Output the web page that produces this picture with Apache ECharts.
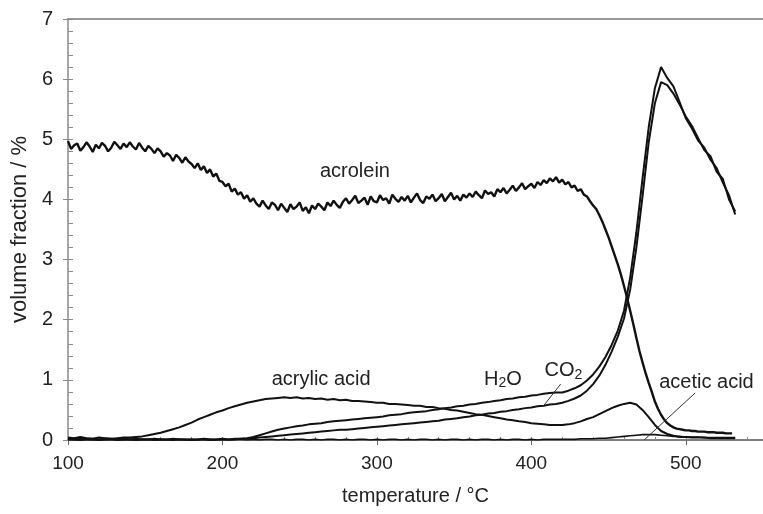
<!DOCTYPE html>
<html>
<head>
<meta charset="utf-8">
<script src="https://cdn.jsdelivr.net/npm/echarts@6/dist/echarts.min.js"></script>
<style>
  html, body { margin: 0; padding: 0; background: #fff; }
  #chart { width: 763px; height: 514px; }
</style>
</head>
<body>
<div id="chart"></div>
<script>
// Temperature grids (°C): fine steps for the acrolein trace, coarser steps for the others
const tempsFine = [];
for (let t = 100; t <= 530; t += 2) tempsFine.push(t);
const tempsCoarse = [];
for (let t = 100; t <= 532; t += 4) tempsCoarse.push(t);

// Volume fractions (%) on tempsFine
const acrolein = [
  4.97, 4.84, 4.90, 4.93, 4.81, 4.87, 4.95, 4.88, 4.79, 4.91,
  4.85, 4.94, 4.89, 4.80, 4.86, 4.96, 4.90, 4.84, 4.93, 4.87,
  4.95, 4.88, 4.83, 4.94, 4.86, 4.80, 4.89, 4.84, 4.77, 4.85,
  4.80, 4.71, 4.77, 4.73, 4.64, 4.74, 4.69, 4.61, 4.70, 4.63,
  4.59, 4.52, 4.60, 4.49, 4.55, 4.44, 4.50, 4.38, 4.43, 4.31,
  4.29, 4.22, 4.26, 4.13, 4.18, 4.08, 4.12, 4.01, 4.07, 3.96,
  4.02, 3.93, 3.88, 3.98, 3.90, 3.84, 3.95, 3.91, 3.82, 3.93,
  3.86, 3.79, 3.92, 3.84, 3.88, 3.95, 3.81, 3.87, 3.77, 3.90,
  3.84, 3.93, 3.88, 3.82, 3.95, 3.89, 3.98, 3.91, 3.86, 3.96,
  4.02, 3.93, 3.99, 4.06, 3.94, 3.98, 4.03, 3.91, 4.05, 3.97,
  3.95, 4.07, 3.99, 4.02, 3.93, 4.08, 4.01, 3.96, 4.04, 3.98,
  4.06, 3.95, 4.03, 4.10, 3.99, 3.94, 4.05, 4.01, 4.08, 3.97,
  4.02, 4.09, 3.97, 4.04, 4.11, 4.00, 4.06, 3.98, 4.08, 4.03,
  4.10, 4.04, 4.13, 4.07, 4.02, 4.15, 4.09, 4.12, 4.05, 4.17,
  4.12, 4.19, 4.10, 4.16, 4.23, 4.14, 4.20, 4.27, 4.17, 4.22,
  4.26, 4.19, 4.29, 4.24, 4.32, 4.27, 4.35, 4.30, 4.37, 4.28,
  4.33, 4.25, 4.29, 4.20, 4.23, 4.14, 4.17, 4.08, 4.05, 3.97,
  3.90, 3.84, 3.74, 3.63, 3.50, 3.37, 3.22, 3.07, 2.92, 2.75,
  2.56, 2.36, 2.15, 1.93, 1.70, 1.48, 1.29, 1.11, 0.95, 0.80,
  0.64, 0.52, 0.42, 0.34, 0.28, 0.24, 0.21, 0.19, 0.18, 0.17,
  0.16, 0.16, 0.15, 0.15, 0.14, 0.14, 0.14, 0.13, 0.13, 0.13,
  0.12, 0.12, 0.12, 0.11, 0.11, 0.11
];

// Volume fractions (%) on tempsCoarse
const acrylicAcid = [
  0.04, 0.03, 0.05, 0.03, 0.02, 0.04, 0.03, 0.02, 0.03, 0.04,
  0.04, 0.05, 0.06, 0.08, 0.10, 0.12, 0.15, 0.18, 0.21, 0.25,
  0.29, 0.34, 0.38, 0.42, 0.46, 0.49, 0.53, 0.56, 0.59, 0.62,
  0.64, 0.66, 0.68, 0.69, 0.70, 0.71, 0.70, 0.71, 0.69, 0.70,
  0.68, 0.69, 0.67, 0.68, 0.66, 0.67, 0.65, 0.65, 0.64, 0.63,
  0.62, 0.62, 0.60, 0.60, 0.59, 0.58, 0.57, 0.57, 0.55, 0.55,
  0.53, 0.52, 0.50, 0.49, 0.47, 0.45, 0.43, 0.42, 0.40, 0.38,
  0.36, 0.34, 0.33, 0.31, 0.30, 0.28, 0.27, 0.26, 0.25, 0.25,
  0.25, 0.26, 0.28, 0.31, 0.35, 0.38, 0.43, 0.48, 0.53, 0.57,
  0.60, 0.62, 0.59, 0.50, 0.38, 0.25, 0.15, 0.10, 0.07, 0.05,
  0.05, 0.04, 0.04, 0.04, 0.03, 0.03, 0.03, 0.03, 0.03
];
const co2 = [
  0.03, 0.02, 0.03, 0.02, 0.02, 0.01, 0.02, 0.02, 0.01, 0.02,
  0.01, 0.02, 0.01, 0.01, 0.02, 0.01, 0.01, 0.02, 0.01, 0.01,
  0.01, 0.01, 0.02, 0.01, 0.01, 0.02, 0.01, 0.02, 0.02, 0.03,
  0.05, 0.08, 0.11, 0.14, 0.17, 0.19, 0.21, 0.23, 0.24, 0.26,
  0.27, 0.28, 0.30, 0.31, 0.32, 0.33, 0.34, 0.35, 0.36, 0.37,
  0.38, 0.39, 0.41, 0.42, 0.43, 0.45, 0.46, 0.47, 0.48, 0.50,
  0.51, 0.53, 0.54, 0.56, 0.57, 0.59, 0.60, 0.62, 0.63, 0.65,
  0.66, 0.68, 0.69, 0.71, 0.72, 0.74, 0.75, 0.77, 0.78, 0.79,
  0.79, 0.82, 0.86, 0.91, 0.99, 1.09, 1.22, 1.38, 1.58, 1.82,
  2.15, 2.70, 3.45, 4.35, 5.20, 5.85, 6.20, 6.02, 5.88, 5.62,
  5.35, 5.18, 4.98, 4.86, 4.66, 4.52, 4.28, 4.07, 3.75
];
const water = [
  0.01, 0.01, 0.00, 0.01, 0.01, 0.00, 0.01, 0.01, 0.00, 0.01,
  0.01, 0.00, 0.01, 0.01, 0.00, 0.01, 0.01, 0.00, 0.01, 0.01,
  0.00, 0.01, 0.01, 0.00, 0.01, 0.01, 0.01, 0.01, 0.02, 0.02,
  0.03, 0.04, 0.05, 0.06, 0.07, 0.08, 0.09, 0.10, 0.11, 0.12,
  0.13, 0.14, 0.15, 0.16, 0.17, 0.17, 0.18, 0.19, 0.20, 0.21,
  0.22, 0.23, 0.24, 0.25, 0.26, 0.27, 0.28, 0.29, 0.30, 0.31,
  0.32, 0.34, 0.35, 0.36, 0.38, 0.39, 0.41, 0.42, 0.44, 0.45,
  0.47, 0.48, 0.50, 0.51, 0.53, 0.54, 0.56, 0.57, 0.59, 0.60,
  0.62, 0.65, 0.69, 0.74, 0.82, 0.93, 1.07, 1.25, 1.47, 1.72,
  2.02, 2.50, 3.20, 4.05, 4.95, 5.60, 5.95, 5.90, 5.76, 5.58,
  5.38, 5.22, 5.02, 4.82, 4.72, 4.46, 4.34, 4.00, 3.80
];
const aceticAcid = [
  0.01, 0.00, 0.01, 0.01, 0.00, 0.01, 0.00, 0.01, 0.01, 0.00,
  0.01, 0.00, 0.01, 0.01, 0.00, 0.01, 0.00, 0.01, 0.01, 0.00,
  0.01, 0.00, 0.01, 0.01, 0.00, 0.01, 0.00, 0.01, 0.01, 0.00,
  0.01, 0.00, 0.01, 0.01, 0.00, 0.01, 0.00, 0.01, 0.01, 0.00,
  0.01, 0.00, 0.01, 0.01, 0.00, 0.01, 0.00, 0.01, 0.01, 0.00,
  0.01, 0.00, 0.01, 0.01, 0.00, 0.01, 0.00, 0.01, 0.01, 0.00,
  0.01, 0.00, 0.01, 0.01, 0.00, 0.01, 0.00, 0.01, 0.01, 0.00,
  0.01, 0.00, 0.01, 0.01, 0.00, 0.01, 0.00, 0.01, 0.01, 0.01,
  0.01, 0.01, 0.01, 0.02, 0.02, 0.02, 0.03, 0.03, 0.04, 0.05,
  0.06, 0.07, 0.08, 0.09, 0.09, 0.09, 0.08, 0.07, 0.06, 0.06,
  0.05, 0.05, 0.05, 0.04, 0.04, 0.04, 0.04, 0.04, 0.04
];

// Axis settings
const xMin = 100, xMax = 550, xStep = 100, xMinorStep = 20;
const yMin = 0, yMax = 7, yStep = 1, yMinorStep = 0.2;

// Curve labels: text and anchor point in data coordinates (°C, %)
const labelTexts = ['acrolein', 'acrylic acid', '{m|H}{s|2}{m|O}', '{m|CO}{s|2}', 'acetic acid'];
const labelAnchors = [[285.8, 4.46], [263.9, 1.0], [381.6, 1.01], [420.8, 1.15], [513.4, 0.96]];

// Leader lines from labels to curves (data coordinates)
const leaderLines = [
  [[419.0, 0.93], [407.3, 0.55]],
  [[506.0, 0.78], [473.0, 0.0]]
];

const FONT = '"Liberation Sans", Arial, sans-serif';
const TXT = '#222';
const AXIS_GRAY = '#8a8a8a';

const pairs = (xs, ys) => ys.map((v, i) => [xs[i], v]);

const gridBox = { left: 68, top: 19, width: 700, height: 421 };

function lineSeries(name, xs, ys, width) {
  return {
    name, type: 'line', xAxisIndex: 0, yAxisIndex: 0,
    data: pairs(xs, ys), showSymbol: false, symbol: 'none',
    lineStyle: { color: '#111', width: width },
    emphasis: { disabled: true }, silent: true, z: 3
  };
}

const chart = echarts.init(document.getElementById('chart'), null, { renderer: 'canvas' });

const option = {
  animation: false,
  backgroundColor: '#fff',
  grid: [
    Object.assign({}, gridBox),
    Object.assign({}, gridBox),
    Object.assign({}, gridBox)
  ],
  xAxis: [
    {
      gridIndex: 0, type: 'value', min: xMin, max: xMax, interval: xStep,
      position: 'bottom',
      name: 'temperature / °C', nameLocation: 'middle', nameGap: 46,
      nameTextStyle: { fontFamily: FONT, fontSize: 20, color: TXT },
      axisLine: { show: true, onZero: false, lineStyle: { color: '#555', width: 1.5 } },
      axisTick: { show: true, inside: false, length: 5, lineStyle: { color: '#666', width: 1 } },
      axisLabel: { fontFamily: FONT, fontSize: 19, color: TXT, margin: 14, showMaxLabel: false },
      splitLine: { show: false }
    },
    {
      gridIndex: 1, type: 'value', min: xMin, max: xMax, interval: xMinorStep,
      position: 'bottom',
      axisLine: { show: false, onZero: false },
      axisTick: { show: true, inside: true, length: 3, lineStyle: { color: AXIS_GRAY, width: 1 } },
      axisLabel: { show: false },
      splitLine: { show: false }
    },
    {
      gridIndex: 2, type: 'value', min: xMin, max: xMax,
      position: 'top',
      axisLine: { show: true, onZero: false, lineStyle: { color: '#999', width: 2 } },
      axisTick: { show: false },
      axisLabel: { show: false },
      splitLine: { show: false }
    }
  ],
  yAxis: [
    {
      gridIndex: 0, type: 'value', min: yMin, max: yMax, interval: yStep,
      position: 'left',
      name: 'volume fraction / %', nameLocation: 'middle', nameGap: 36,
      nameTextStyle: { fontFamily: FONT, fontSize: 22, color: TXT },
      axisLine: { show: true, onZero: false, lineStyle: { color: AXIS_GRAY, width: 1.5 } },
      axisTick: { show: true, inside: false, length: 5, lineStyle: { color: AXIS_GRAY, width: 1 } },
      axisLabel: { fontFamily: FONT, fontSize: 20, color: TXT, margin: 15 },
      splitLine: { show: false }
    },
    {
      gridIndex: 1, type: 'value', min: yMin, max: yMax, interval: yMinorStep,
      position: 'left',
      axisLine: { show: false, onZero: false },
      axisTick: { show: true, inside: true, length: 5, lineStyle: { color: AXIS_GRAY, width: 1 } },
      axisLabel: { show: false },
      splitLine: { show: false }
    },
    {
      gridIndex: 2, type: 'value', min: yMin, max: yMax, show: false
    }
  ],
  series: [
    lineSeries('acrolein', tempsFine, acrolein, 2.4),
    lineSeries('acrylic acid', tempsCoarse, acrylicAcid, 2),
    lineSeries('CO2', tempsCoarse, co2, 2),
    lineSeries('H2O', tempsCoarse, water, 2),
    Object.assign(lineSeries('acetic acid', tempsCoarse, aceticAcid, 1.6), {
      markLine: {
        silent: true, symbol: ['none', 'none'],
        lineStyle: { color: '#333', width: 1, type: 'solid' },
        label: { show: false },
        data: leaderLines.map(seg => [{ coord: seg[0] }, { coord: seg[1] }])
      }
    })
  ]
};

chart.setOption(option);

// Place curve labels at their data-coordinate anchors
const richStyles = {
  m: { fontFamily: FONT, fontSize: 20, fill: TXT, lineHeight: 22 },
  s: { fontFamily: FONT, fontSize: 14, fill: TXT, lineHeight: 10, verticalAlign: 'bottom' }
};
const labelGraphics = labelTexts.map((txt, i) => {
  const p = chart.convertToPixel({ gridIndex: 0 }, labelAnchors[i]);
  return {
    type: 'text', x: p[0], y: p[1], z: 10, silent: true,
    style: {
      text: txt, rich: richStyles,
      fontFamily: FONT, fontSize: 20, fill: TXT,
      align: 'center', verticalAlign: 'middle'
    }
  };
});
chart.setOption({ graphic: labelGraphics });
</script>
</body>
</html>
